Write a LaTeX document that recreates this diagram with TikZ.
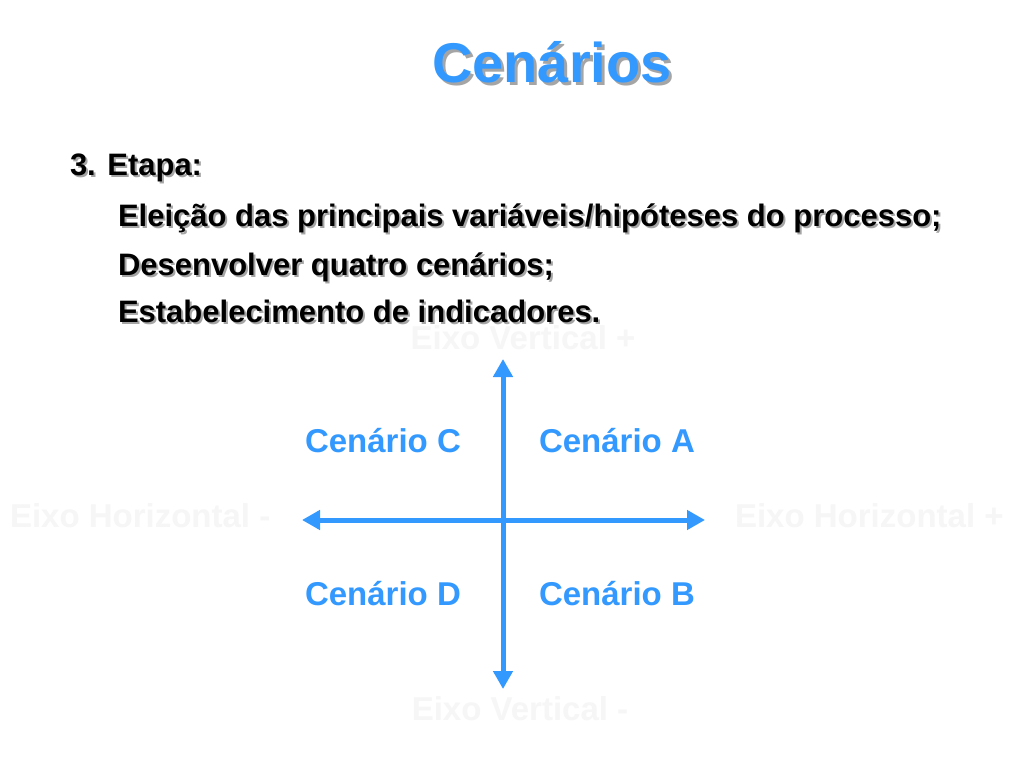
\documentclass[tikz,border=0pt]{standalone}
\usepackage{fontspec}
\setmainfont{Liberation Sans}
\usetikzlibrary{arrows.meta}
\definecolor{cblue}{RGB}{51,153,255}
\definecolor{shade}{RGB}{165,165,165}
\definecolor{faint}{RGB}{246,246,246}
\begin{document}
\begin{tikzpicture}[x=1pt,y=-1pt,
  every node/.style={inner sep=0pt,outer sep=0pt},
  titletxt/.style={font=\fontsize{56}{60}\selectfont\bfseries,text=cblue},
  titleshadow/.style={font=\fontsize{56}{60}\selectfont\bfseries,text=shade},
  bodytxt/.style={font=\fontsize{31}{34}\selectfont\bfseries,text=black,anchor=base west},
  bodyshadow/.style={font=\fontsize{31}{34}\selectfont\bfseries,text=shade,anchor=base west},
  scen/.style={font=\fontsize{33}{38}\selectfont\bfseries,text=cblue,anchor=base west},
  axislbl/.style={font=\fontsize{33}{36}\selectfont\bfseries,text=faint,anchor=base},
  axisline/.style={draw=cblue,line width=5pt,{Triangle[width=19pt,length=18pt]}-{Triangle[width=19pt,length=18pt]}}
]
\useasboundingbox (0,0) rectangle (1023,767);
\fill[white] (0,0) rectangle (1023,767);

% title
\node[titleshadow,anchor=base] (titles) at (555,86) {Cenários};
\node[titletxt,anchor=base] (title) at (552,83) {Cenários};

% body text
\node[bodyshadow] (l0s) at (72,178) {3. Etapa:};
\node[bodytxt] (l0) at (70,176) {3. Etapa:};
\node[bodyshadow] (l1s) at (120,229) {Eleição das principais variáveis/hipóteses do processo;};
\node[bodytxt] (l1) at (118,227) {Eleição das principais variáveis/hipóteses do processo;};
\node[bodyshadow] (l2s) at (120,278) {Desenvolver quatro cenários;};
\node[bodytxt] (l2) at (118,276) {Desenvolver quatro cenários;};
\node[bodyshadow] (l3s) at (120,325) {Estabelecimento de indicadores.};
\node[bodytxt] (l3) at (118,323) {Estabelecimento de indicadores.};

% faint axis labels
\node[axislbl] (vplus) at (523,350) {Eixo Vertical +};
\node[axislbl] (vminus) at (520,720) {Eixo Vertical -};
\node[axislbl,anchor=base west] (hminus) at (10,527) {Eixo Horizontal -};
\node[axislbl,anchor=base west] (hplus) at (735,527) {Eixo Horizontal +};

% axes
\coordinate (top) at (503,359);
\coordinate (bottom) at (503,689);
\coordinate (left) at (302,520);
\coordinate (right) at (705,520);
\draw[axisline] (bottom) -- (top);
\draw[axisline] (left) -- (right);

% scenario labels
\node[scen] (sc) at (305,452) {Cenário C};
\node[scen] (sa) at (539,452) {Cenário A};
\node[scen] (sd) at (305,605) {Cenário D};
\node[scen] (sb) at (539,605) {Cenário B};
\end{tikzpicture}
\end{document}
